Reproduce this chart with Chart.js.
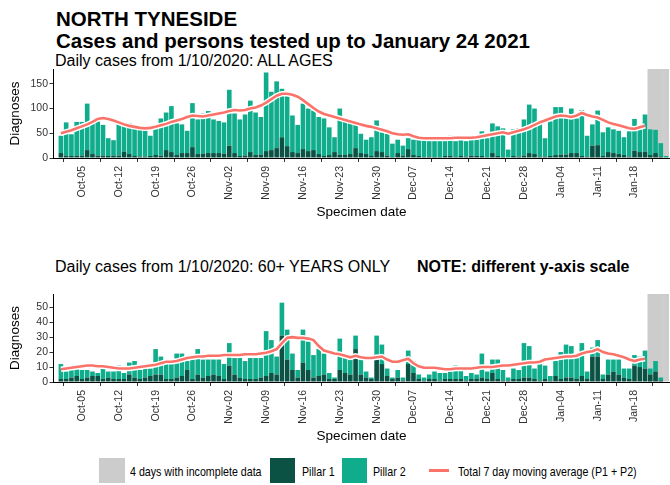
<!DOCTYPE html>
<html>
<head>
<meta charset="utf-8">
<script src="https://cdn.jsdelivr.net/npm/chart.js@4.4.1/dist/chart.umd.min.js"></script>
<style>
  body { margin: 0; background: #fff; font-family: "Liberation Sans", Arial, sans-serif; }
  #page { position: relative; width: 670px; height: 485px; overflow: hidden; }
  .txt { position: absolute; white-space: nowrap; line-height: 1; color: #000; }
  .title { font-size: 20.5px; font-weight: bold; left: 56px; }
  .sub { font-size: 16px; }
  canvas { position: absolute; left: 0; }
  .key { position: absolute; }
  .lab { position: absolute; white-space: nowrap; line-height: 1; font-size: 13px; color: #000;
         font-family: "Liberation Sans", Arial, sans-serif;
         transform: scaleX(0.82); transform-origin: 0 50%; }
</style>
</head>
<body>
<div id="page">
  <div class="txt title" style="top:9px">NORTH TYNESIDE</div>
  <div class="txt title" style="top:31px">Cases and persons tested up to January 24 2021</div>
  <div class="txt sub" style="left:55px; top:53px">Daily cases from 1/10/2020: ALL AGES</div>
  <canvas id="allAges" width="670" height="158" style="top:66px"></canvas>

  <div class="txt sub" style="left:55px; top:259px">Daily cases from 1/10/2020: 60+ YEARS ONLY</div>
  <div class="txt sub" style="left:417px; top:259px; font-weight:bold">NOTE: different y-axis scale</div>
  <canvas id="over60" width="670" height="158" style="top:290px"></canvas>

  <div class="key" style="left:99px; top:458px; width:26px; height:25px; background:#cccccc"></div>
  <div class="lab" style="left:130px; top:465px">4 days with incomplete data</div>
  <div class="key" style="left:270px; top:458px; width:25px; height:25px; background:#0b5244"></div>
  <div class="lab" style="left:302px; top:465px">Pillar 1</div>
  <div class="key" style="left:342px; top:458px; width:25px; height:25px; background:#10ad8d"></div>
  <div class="lab" style="left:373px; top:465px">Pillar 2</div>
  <div class="key" style="left:429px; top:469px; width:20px; height:3px; background:#fa7268"></div>
  <div class="lab" style="left:458px; top:465px">Total 7 day moving average (P1 + P2)</div>
</div>

<script>
// days from 1 Oct 2020 to 24 Jan 2021
const months = [['Oct', 31], ['Nov', 30], ['Dec', 31], ['Jan', 24]]
const dayLabels = []
months.forEach(([m, n]) => {
  for (let d = 1; d <= n; d++) dayLabels.push(m + '-' + String(d).padStart(2, '0'))
})

const tickLabels = ['Oct-05', 'Oct-12', 'Oct-19', 'Oct-26', 'Nov-02', 'Nov-09', 'Nov-16', 'Nov-23',
  'Nov-30', 'Dec-07', 'Dec-14', 'Dec-21', 'Dec-28', 'Jan-04', 'Jan-11', 'Jan-18']
const incompleteDays = ['Jan-21', 'Jan-22', 'Jan-23', 'Jan-24']

// ALL AGES
const allAgesPillar1 = [10,5,4,5,5,16,8,5,5,4, 5,5,13,8,4,3,3,4,6,5, 16,12,6,10,10,22,8,9,10,10,
  10,9,25,10,4,5,12,6,7,14, 16,20,42,24,12,10,18,14,16,8, 4,6,12,7,6,8,20,10,8,4,
  14,12,5,2,10,5,18,6,4,2, 3,2,2,4,5,2,4,3,5,4, 4,2,10,4,2,1,4,3,5,10,
  8,3,3,4,6,7,7,10,10,4, 3,25,26,4,12,10,8,6,3,15, 12,13,6,10,3,0]
const allAgesPillar2 = [35,67,44,68,68,94,64,70,62,36, 31,71,59,62,62,57,53,41,57,75, 76,93,64,58,45,89,70,81,85,68,
  65,63,113,80,74,83,104,86,76,159, 118,135,98,103,74,57,92,86,80,75, 76,56,30,93,70,65,47,39,29,38,
  62,40,44,27,27,20,22,31,36,34, 31,32,32,30,40,32,33,31,32,33, 50,38,60,60,58,16,54,57,73,98,
  92,71,37,70,97,96,75,90,70,93, 42,43,70,48,50,48,47,36,51,64, 50,75,52,47,27,4]
const allAgesAvg = [50,53,56,60,64,68,73,79,81,79, 76,72,68,65,63,61,60,61,63,66, 69,73,76,79,83,86,85,84,86,88,
  90,92,95,97,96,97,100,102,106,112, 119,126,130,130,128,124,117,109,101,94, 89,86,83,80,77,74,71,68,65,63,
  60,57,54,50,48,47,48,44,41,40, 40,40,40,40,40,41,41,41,41,42, 44,46,48,50,52,49,52,55,58,62,
  67,72,76,80,84,86,85,83,86,91, 87,84,82,77,72,69,66,63,60,59, 62,65]

// 60+ YEARS
const over60Pillar1 = [2,2,3,4,2,3,4,4,2,3, 2,2,2,5,3,2,3,4,5,5, 2,2,3,4,8,2,5,3,4,5,
  4,2,11,5,3,2,2,2,3,4, 6,5,31,15,8,3,13,8,3,4, 5,2,2,8,6,5,22,5,3,2,
  15,12,4,2,3,1,12,6,2,1, 2,2,1,2,2,2,2,1,2,2, 3,2,6,2,1,1,2,2,3,3,
  2,1,2,1,4,2,3,3,2,4, 2,17,17,2,5,7,5,3,2,11, 10,9,5,7,1,0]
const over60Pillar2 = [10,5,5,5,6,5,3,2,10,4, 5,9,4,8,11,6,6,5,17,12, 10,11,16,15,6,16,17,12,11,10,
  11,10,15,11,13,12,14,14,13,30, 22,12,22,20,11,5,22,19,15,18, 14,4,1,21,10,10,9,10,4,1,
  16,13,5,1,5,2,9,8,3,2, 3,5,5,4,8,9,6,3,4,3, 16,5,9,13,7,2,7,6,23,21,
  7,11,9,3,10,18,22,21,14,22, 5,6,11,3,10,8,10,6,7,7, 7,12,4,7,2,0]
const over60Avg = [8.5,9,9.5,10,10.5,11,11,10.5,10.5,10, 9.5,9,9,9,9.5,10,10.5,11,11.5,12.5,
  13.5,13.5,14,15,16,16.5,17,17,17.5,17.5, 17.5,18,18,18,18,18.5,18.5,18.5,19,19.5,
  20.5,22,26,29.5,30,29.5,29.5,29,28,24, 21,20,19,18.5,17.5,16.5,17.5,16.5,16,16,
  16.5,17,15,13.5,13.5,14.5,15.5,12.5,10.5,9.5, 9.5,9.5,9,8.5,8.5,9,9,9,9,9.5,
  10,10,10,10.5,11,11,11.5,12,12.5,13, 13,13.5,15,15.5,16,16.5,17,17,17.5,19,
  20,20.5,22,20,19,18.5,17.5,16.5,15,14, 15,15.5]

const pillar1Colour = '#0b5244'
const pillar2Colour = '#10ad8d'
const avgColour = '#fa7268'
const greyColour = '#cccccc'
const tickColour = '#333333'

Chart.defaults.font.family = '"Liberation Sans", Arial, sans-serif'

const pts = (values) => values.map((v, i) => ({ x: i, y: v }))

const makeChart = (id, p1, p2, avg, yMax, yStep, padTop) => {
  const ctx = document.getElementById(id)
  return new Chart(ctx, {
    type: 'bar',
    data: {
      datasets: [
        { type: 'line', data: pts(avg), borderColor: avgColour, borderWidth: 2.6,
          pointRadius: 0, tension: 0, stack: 'avg', order: 1 },
        { type: 'line', data: pts(avg), borderColor: '#ffffff', borderWidth: 5.5,
          pointRadius: 0, tension: 0, stack: 'halo', order: 2 },
        { label: 'Pillar 1', data: pts(p1), backgroundColor: pillar1Colour,
          barPercentage: 0.88, categoryPercentage: 1, order: 5 },
        { label: 'Pillar 2', data: pts(p2), backgroundColor: pillar2Colour,
          barPercentage: 0.88, categoryPercentage: 1, order: 5 },
        { label: '4 days with incomplete data',
          data: incompleteDays.map(d => ({ x: dayLabels.indexOf(d), y: yMax })),
          backgroundColor: greyColour, borderColor: greyColour, borderWidth: 1,
          barPercentage: 1, categoryPercentage: 1, stack: 'grey', grouped: false, order: 9 }
      ]
    },
    options: {
      responsive: false,
      animation: false,
      layout: { padding: { top: padTop, left: 0, right: 0, bottom: 0 } },
      plugins: { legend: { display: false }, tooltip: { enabled: false } },
      scales: {
        x: {
          type: 'linear',
          min: -1.5,
          max: 115.75,
          stacked: true,
          offset: false,
          grid: { drawOnChartArea: false, tickLength: 4, color: tickColour },
          border: { color: '#000000', width: 1 },
          ticks: {
            autoSkip: false, minRotation: 90, maxRotation: 90, padding: 4,
            color: tickColour, font: { size: 10.5 },
            callback: (v) => dayLabels[v]
          },
          afterBuildTicks: (s) => {
            s.ticks = tickLabels.map(t => ({ value: dayLabels.indexOf(t) }))
          },
          afterFit: (s) => { s.height = 66; s.paddingLeft = 0; s.paddingRight = 0 },
          title: { display: true, text: 'Specimen date', color: '#000000',
            font: { size: 13.5 }, padding: { top: 0, bottom: 4 } }
        },
        y: {
          min: 0,
          max: yMax,
          stacked: true,
          grid: { drawOnChartArea: false, tickLength: 3.5, color: tickColour },
          border: { color: '#000000', width: 1 },
          ticks: { stepSize: yStep, includeBounds: false, padding: 1.5,
            color: tickColour, font: { size: 10.5 } },
          afterFit: (s) => { s.width = 53; s.paddingTop = 0; s.paddingBottom = 0 },
          title: { display: true, text: 'Diagnoses', color: '#000000',
            font: { size: 13.5 }, padding: { top: 7, bottom: 0 } }
        }
      }
    }
  })
}

makeChart('allAges', allAgesPillar1, allAgesPillar2, allAgesAvg, 180, 50, 3)
makeChart('over60', over60Pillar1, over60Pillar2, over60Avg, 58.8, 10, 4)
</script>
</body>
</html>
